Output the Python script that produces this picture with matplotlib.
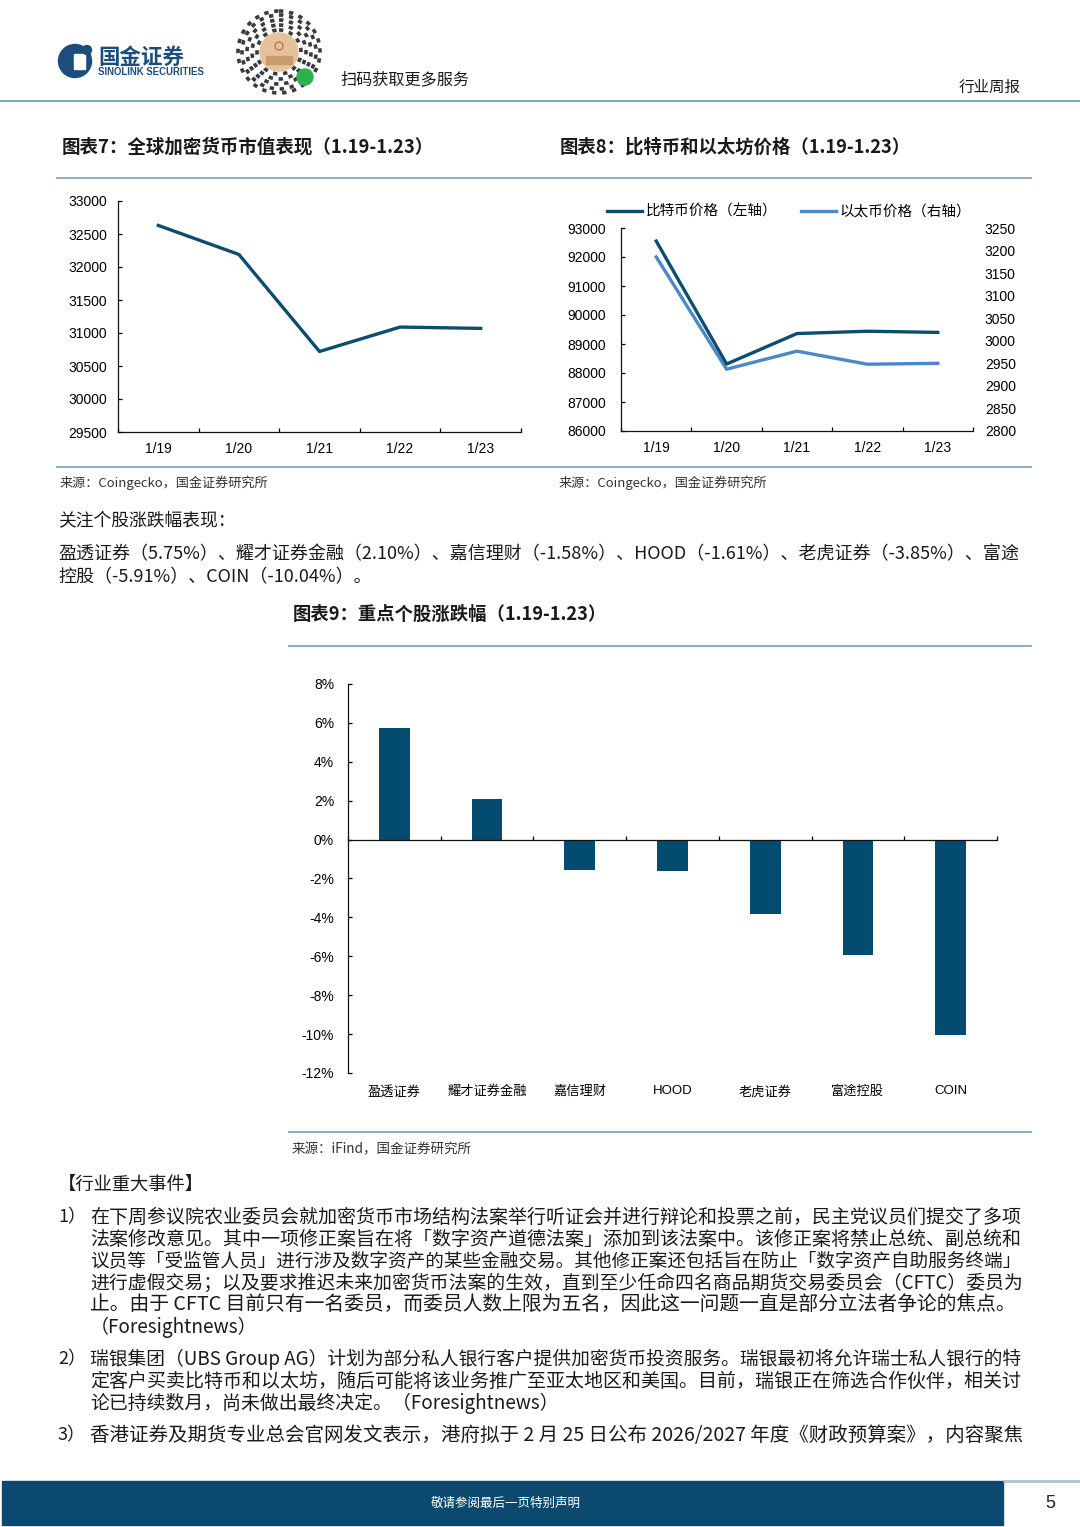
import matplotlib
matplotlib.use('Agg')
import matplotlib.pyplot as plt
import numpy as np
from matplotlib.patches import Circle, Rectangle
from matplotlib.ticker import FixedLocator, FuncFormatter

W, H = 1080, 1527
CJK = 'Noto Sans CJK SC'
BODY = [CJK, 'DejaVu Sans']
plt.rcParams['font.family'] = ['Liberation Sans', CJK]
plt.rcParams['axes.unicode_minus'] = False

# ---------------- data ----------------
dates = ['1/19', '1/20', '1/21', '1/22', '1/23']
crypto_mcap = [32630, 32190, 30720, 31090, 31070]
btc_price = [92550, 88310, 89360, 89440, 89400]
eth_price = [3186, 2937, 2977, 2948, 2950]
stocks = ['盈透证券', '耀才证券金融', '嘉信理财', 'HOOD', '老虎证券', '富途控股', 'COIN']
stock_chg = [5.75, 2.10, -1.58, -1.61, -3.85, -5.91, -10.04]
mcap_ticks = list(range(29500, 33001, 500))
btc_ticks = list(range(86000, 93001, 1000))
eth_ticks = list(range(2800, 3251, 50))
chg_ticks = list(range(-12, 9, 2))
legend_labels = ['比特币价格（左轴）', '以太币价格（右轴）']

DARK = '#0c4d70'
LIGHT = '#4a88c7'
BAR = '#034b6f'
RULE = '#7ea7c0'
TXT = '#1a1a1a'
TICK = 10

fig = plt.figure(figsize=(W / 100, H / 100), dpi=100)
page = fig.add_axes([0, 0, 1, 1], zorder=0)
page.set_xlim(0, W)
page.set_ylim(H, 0)
page.axis('off')
renderer = fig.canvas.get_renderer()


def px_axes(x0, y0, x1, y1):
    return fig.add_axes([x0 / W, 1 - y1 / H, (x1 - x0) / W, (y1 - y0) / H], zorder=2)


def put(x, y, s, size, family=BODY, x1=None, **kw):
    kw.setdefault('color', TXT)
    kw.setdefault('ha', 'left')
    t = page.text(x, y, s, fontsize=size, family=family, va='center', **kw)
    if x1 is not None:
        w = t.get_window_extent(renderer).width
        t.set_fontsize(size * (x1 - x) / w)
    return t


def rule(x0, x1, y, color=RULE, lw=1.3):
    page.plot([x0, x1], [y, y], color=color, lw=lw, solid_capstyle='butt')


# ---------------- header ----------------
page.add_patch(Circle((75, 61), 16.5, color='#1c4e7d'))
page.add_patch(Rectangle((74, 54), 11, 15, color='white'))
page.add_patch(Circle((87, 50), 4.5, color='#1c4e7d'))
put(98, 57, '国金证券', 15, color='#1c4e7d', fontweight='bold', x1=184)
put(98, 72, 'SINOLINK SECURITIES', 6.5, family=['Liberation Sans'], color='#1c4e7d',
    fontweight='bold', x1=204)
# QR-code style emblem
for r in [22, 27, 32, 37, 41]:
    page.add_patch(Circle((279, 52), r, fill=False, lw=2.6, color='#3a3a3a',
                          linestyle=(0, (1.2, 1.6))))
page.add_patch(Circle((279, 52), 19, color='#e6c29c'))
page.add_patch(Circle((279, 46), 4, fill=False, color='#b97a45', lw=1))
page.add_patch(Rectangle((266, 56), 26, 8, color='#c99a6c'))
page.add_patch(Circle((305, 77), 8, color='#2bb24c'))
put(340, 80, '扫码获取更多服务', 12.5, x1=469)
put(959, 87, '行业周报', 11, x1=1021)
rule(0, 1080, 101, lw=1.5)

# ---------------- chart 7 / 8 titles and rules ----------------
put(62, 147, '图表7：全球加密货币市值表现（1.19-1.23）', 13, fontweight='bold', x1=433)
put(560, 147, '图表8：比特币和以太坊价格（1.19-1.23）', 13, fontweight='bold', x1=911)
rule(56, 1032, 178)
rule(56, 1032, 467)
put(60, 483, '来源：Coingecko，国金证券研究所', 8.5, color='#333333', x1=268)
put(559, 483, '来源：Coingecko，国金证券研究所', 8.5, color='#333333', x1=767)


def style_axes(ax, xs):
    for s in ['top', 'right']:
        ax.spines[s].set_visible(False)
    for s in ['left', 'bottom']:
        ax.spines[s].set_linewidth(0.9)
        ax.spines[s].set_color('#111111')
    ax.set_xlim(-0.5, len(xs) - 0.5)
    ax.xaxis.set_minor_locator(FixedLocator(np.arange(-0.5, len(xs), 1)))
    ax.tick_params(axis='x', which='major', length=0, labelsize=TICK, pad=7)
    ax.tick_params(axis='x', which='minor', direction='in', length=3, width=0.9)
    ax.tick_params(axis='y', direction='in', length=3, width=0.9, labelsize=TICK)


# chart 7
ax1 = px_axes(118, 201, 521, 432)
x = np.arange(len(dates))
ax1.plot(x, crypto_mcap, color=DARK, lw=2.4)
style_axes(ax1, dates)
ax1.set_xticks(x)
ax1.set_xticklabels(dates)
ax1.set_ylim(29500, 33000)
ax1.set_yticks(mcap_ticks)
ax1.tick_params(axis='y', pad=8)

# chart 8
ax2 = px_axes(621, 228, 973, 431)
l1, = ax2.plot(x, btc_price, color=DARK, lw=2.4, zorder=3)
style_axes(ax2, dates)
ax2.set_xticks(x)
ax2.set_xticklabels(dates)
ax2.set_ylim(86000, 93000)
ax2.set_yticks(btc_ticks)
ax2.tick_params(axis='y', pad=11)
ax2r = ax2.twinx()
l2, = ax2r.plot(x, eth_price, color=LIGHT, lw=2.4)
ax2r.set_ylim(2800, 3250)
ax2r.set_yticks(eth_ticks)
for s in ax2r.spines.values():
    s.set_visible(False)
ax2r.tick_params(axis='y', length=0, labelsize=TICK, pad=8.5)
ax2.set_zorder(3)
ax2.patch.set_visible(False)
fig.legend([l1, l2], legend_labels, loc='center left',
           bbox_to_anchor=(607 / W, 1 - 212 / H), bbox_transform=fig.transFigure,
           ncol=2, frameon=False, borderpad=0, borderaxespad=0,
           handlelength=2.4, handletextpad=0.25, columnspacing=1.6,
           prop={'family': BODY, 'size': 10.5})

# ---------------- paragraph ----------------
put(58, 521, '关注个股涨跌幅表现：', 13, x1=235)
pa = put(58, 554, '盈透证券（5.75%）、耀才证券金融（2.10%）、嘉信理财（-1.58%）、HOOD（-1.61%）、老虎证券（-3.85%）、富途',
         13, x1=1018)
put(58, 577, '控股（-5.91%）、COIN（-10.04%）。', pa.get_fontsize())

# ---------------- chart 9 ----------------
put(293, 614, '图表9：重点个股涨跌幅（1.19-1.23）', 12, fontweight='bold', x1=606)
rule(288, 1032, 646)
rule(288, 1032, 1132)
put(292, 1149, '来源：iFind，国金证券研究所', 8.5, color='#333333', x1=472)

ax3 = px_axes(348, 684, 997, 1073)
xs = np.arange(len(stocks))
ax3.bar(xs, stock_chg, width=0.33, color=BAR, zorder=2)
ax3.set_xlim(-0.5, len(stocks) - 0.5)
ax3.set_ylim(-12, 8)
ax3.set_yticks(chg_ticks)
ax3.yaxis.set_major_formatter(FuncFormatter(lambda v, p: f'{v:.0f}%'))
for s in ['top', 'right']:
    ax3.spines[s].set_visible(False)
for s in ['left', 'bottom']:
    ax3.spines[s].set_linewidth(0.9)
    ax3.spines[s].set_color('#111111')
ax3.spines['bottom'].set_position(('data', 0))
ax3.spines['bottom'].set_zorder(3)
ax3.set_xticks(np.arange(-0.5, len(stocks), 1))
ax3.set_xticklabels([])
ax3.tick_params(axis='x', direction='in', length=3, width=0.9)
ax3.tick_params(axis='y', direction='in', length=3, width=0.9, labelsize=TICK, pad=10)
sec = ax3.secondary_xaxis('bottom')
sec.set_xticks(xs)
sec.set_xticklabels(stocks)
sec.tick_params(length=0, pad=9, labelsize=9.5)
sec.spines['bottom'].set_visible(False)

# ---------------- events ----------------
put(58, 1185, '【行业重大事件】', 13, x1=204)
p1 = [
    ('在下周参议院农业委员会就加密货币市场结构法案举行听证会并进行辩论和投票之前，民主党议员们提交了多项', 1018),
    ('法案修改意见。其中一项修正案旨在将「数字资产道德法案」添加到该法案中。该修正案将禁止总统、副总统和', 1018),
    ('议员等「受监管人员」进行涉及数字资产的某些金融交易。其他修正案还包括旨在防止「数字资产自助服务终端」', 1018),
    ('进行虚假交易；以及要求推迟未来加密货币法案的生效，直到至少任命四名商品期货交易委员会（CFTC）委员为', 1018),
    ('止。由于 CFTC 目前只有一名委员，而委员人数上限为五名，因此这一问题一直是部分立法者争论的焦点。', 1014),
    ('（Foresightnews）', None),
]
p2 = [
    ('瑞银集团（UBS Group AG）计划为部分私人银行客户提供加密货币投资服务。瑞银最初将允许瑞士私人银行的特', 1018),
    ('定客户买卖比特币和以太坊，随后可能将该业务推广至亚太地区和美国。目前，瑞银正在筛选合作伙伴，相关讨', 1018),
    ('论已持续数月，尚未做出最终决定。（Foresightnews）', None),
]
p3 = [
    ('香港证券及期货专业总会官网发文表示，港府拟于 2 月 25 日公布 2026/2027 年度《财政预算案》，内容聚焦', 1018),
]


def paragraph(num, y0, lines):
    put(58, y0, num, 13)
    sizes = []
    y = y0
    for s, x1 in lines:
        if x1 is not None:
            t = put(90, y, s, 13, x1=x1)
            sizes.append(t.get_fontsize())
        else:
            put(90, y, s, np.median(sizes) if sizes else 13)
        y += 22


paragraph('1）', 1217, p1)
paragraph('2）', 1359, p2)
paragraph('3）', 1435, p3)

# ---------------- footer ----------------
page.add_patch(Rectangle((2, 1481), 1001, 44, color='#0b4a6e'))
rule(1003, 1080, 1481, color='#a7c3d6', lw=2)
put(506, 1503, '敬请参阅最后一页特别声明', 9, color='white', ha='center')
put(1050, 1503, '5', 13, family=['Liberation Sans'], color='#222222', ha='center')

fig.savefig('out.png', dpi=100)
